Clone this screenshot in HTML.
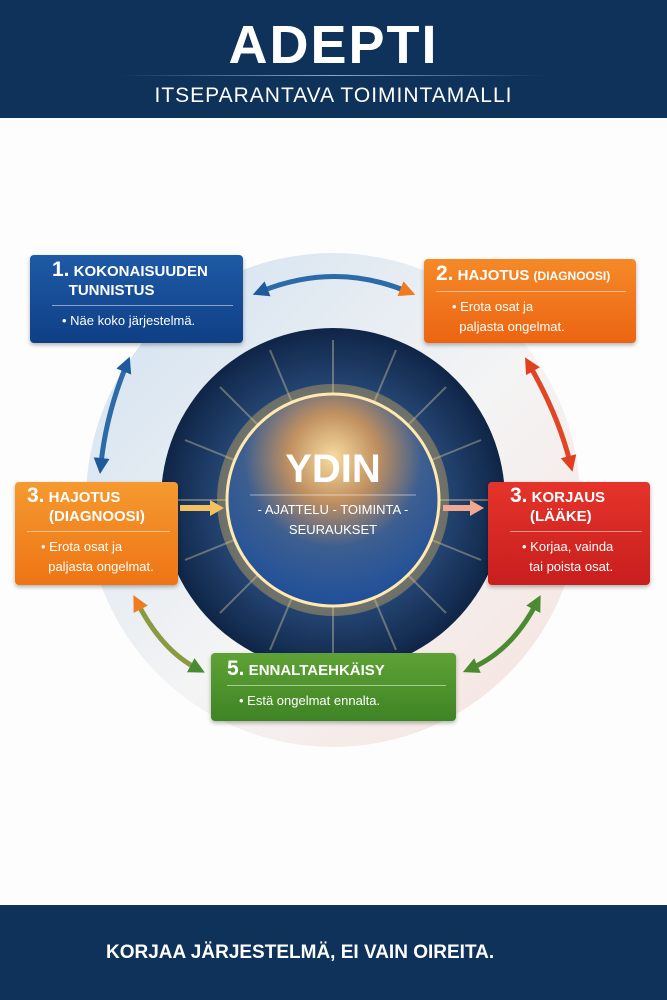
<!DOCTYPE html>
<html><head><meta charset="utf-8"><style>
*{margin:0;padding:0;box-sizing:border-box}
body{width:667px;height:1000px;background:#fdfdfd;font-family:"Liberation Sans",sans-serif;position:relative;overflow:hidden}
.hdr{position:absolute;left:0;top:0;width:667px;height:118px;background:#0e3259;color:#fff;text-align:center}
.hdr h1{position:absolute;top:14px;width:100%;font-size:54px;font-weight:bold;letter-spacing:2px}
.hdr .ln{position:absolute;top:75px;left:120px;width:427px;height:1px;background:linear-gradient(90deg,transparent,#8fa8c8,transparent)}
.hdr .sub{position:absolute;top:84px;width:100%;font-size:21px;letter-spacing:1px}
.ftr{position:absolute;left:0;top:905px;width:667px;height:95px;background:#0e3259;color:#fff;font-size:19px;font-weight:bold;line-height:95px;padding-left:106px;letter-spacing:0}
.box{position:absolute;border-radius:4px;color:#fff;box-shadow:0 2px 4px rgba(0,0,0,.3)}
.box .t{font-weight:bold;font-size:15px;line-height:19px}
.box .t b{font-size:21px}
.box .l{height:1px;background:rgba(255,255,255,.5);margin:5px 0}
.box .d{font-size:13px;line-height:20px}
</style></head><body>
<div class="hdr"><h1>ADEPTI</h1><div class="ln"></div><div class="sub">ITSEPARANTAVA TOIMINTAMALLI</div></div>

<svg style="position:absolute;left:0;top:0" width="667" height="1000">
<defs>
<linearGradient id="ringl" x1="0" y1="0" x2="1" y2="1"><stop offset="0" stop-color="#cfe0f0"/><stop offset="0.55" stop-color="#f4f4f4"/><stop offset="1" stop-color="#f6e2dc"/></linearGradient>
<radialGradient id="dark" cx="50%" cy="50%" r="50%"><stop offset="55%" stop-color="#2b4f80"/><stop offset="100%" stop-color="#0f2547"/></radialGradient>
<radialGradient id="sph" cx="50%" cy="30%" r="70%"><stop offset="0" stop-color="#f8dca0"/><stop offset="0.3" stop-color="#c09060"/><stop offset="0.6" stop-color="#3d5f90"/><stop offset="1" stop-color="#1f4f9a"/></radialGradient>
<marker id="ab" markerUnits="userSpaceOnUse" markerWidth="16" markerHeight="16" refX="6" refY="8" orient="auto-start-reverse"><path d="M0,0 L16,8 L0,16z" fill="#1f5a9a"/></marker>
<marker id="ao" markerUnits="userSpaceOnUse" markerWidth="16" markerHeight="16" refX="6" refY="8" orient="auto-start-reverse"><path d="M0,0 L16,8 L0,16z" fill="#f07a20"/></marker>
<marker id="ar" markerUnits="userSpaceOnUse" markerWidth="16" markerHeight="16" refX="6" refY="8" orient="auto-start-reverse"><path d="M0,0 L16,8 L0,16z" fill="#e04020"/></marker>
<marker id="ag" markerUnits="userSpaceOnUse" markerWidth="16" markerHeight="16" refX="6" refY="8" orient="auto-start-reverse"><path d="M0,0 L16,8 L0,16z" fill="#4a8a30"/></marker>
<marker id="ay" markerUnits="userSpaceOnUse" markerWidth="14" markerHeight="16" refX="4" refY="8" orient="auto"><path d="M0,0 L14,8 L0,16z" fill="#f5c060"/></marker>
<marker id="ap" markerUnits="userSpaceOnUse" markerWidth="14" markerHeight="16" refX="4" refY="8" orient="auto"><path d="M0,0 L14,8 L0,16z" fill="#f0a890"/></marker>
</defs>
<circle cx="333" cy="500" r="247" fill="url(#ringl)"/>
<circle cx="333" cy="500" r="172" fill="url(#dark)"/>
<g stroke="#f6e3b0" stroke-opacity=".35" stroke-width="2">
<line x1="333" y1="340" x2="333" y2="660"/><line x1="173" y1="500" x2="493" y2="500"/>
<line x1="220" y1="387" x2="446" y2="613"/><line x1="446" y1="387" x2="220" y2="613"/>
<line x1="270" y1="350" x2="396" y2="650"/><line x1="396" y1="350" x2="270" y2="650"/>
<line x1="185" y1="440" x2="481" y2="560"/><line x1="185" y1="560" x2="481" y2="440"/>
</g>
<circle cx="333" cy="500" r="116" fill="#f7c35a" opacity=".35"/>
<circle cx="333" cy="500" r="106" fill="url(#sph)" stroke="#ffe9b0" stroke-width="3"/>
<text x="333" y="482" text-anchor="middle" fill="#fff" font-size="40" font-weight="bold" font-family="Liberation Sans">YDIN</text>
<line x1="250" y1="495" x2="416" y2="495" stroke="#fff" stroke-opacity=".5"/>
<text x="333" y="514" text-anchor="middle" fill="#fff" font-size="13" font-family="Liberation Sans">- AJATTELU - TOIMINTA -</text>
<text x="333" y="534" text-anchor="middle" fill="#fff" font-size="13" font-family="Liberation Sans">SEURAUKSET</text>
<path d="M262,291 Q335,262 406,291" stroke="#2c6aa8" stroke-width="5" fill="none" marker-start="url(#ab)" marker-end="url(#ao)"/>
<path d="M126,366 Q106,415 101,464" stroke="#2c6aa8" stroke-width="5" fill="none" marker-start="url(#ab)" marker-end="url(#ab)"/>
<path d="M530,366 Q558,415 570,462" stroke="#e04525" stroke-width="5" fill="none" marker-start="url(#ar)" marker-end="url(#ar)"/>
<path d="M138,604 Q162,650 196,668" stroke="#8a9a40" stroke-width="5" fill="none" marker-start="url(#ao)" marker-end="url(#ag)"/>
<path d="M536,604 Q512,650 472,668" stroke="#4a8a30" stroke-width="5" fill="none" marker-start="url(#ag)" marker-end="url(#ag)"/>
<line x1="180" y1="508" x2="214" y2="508" stroke="#f5c060" stroke-width="6" marker-end="url(#ay)"/>
<line x1="443" y1="508" x2="474" y2="508" stroke="#f0a890" stroke-width="6" marker-end="url(#ap)"/>
</svg>

<div class="box" style="left:30px;top:255px;width:213px;height:88px;background:linear-gradient(#1e5aa6,#0f3f85);padding:5px 10px 0 22px">
<div class="t"><b>1.</b> KOKONAISUUDEN<br>&nbsp;&nbsp;&nbsp;&nbsp;TUNNISTUS</div><div class="l"></div><div class="d" style="padding-left:10px">• Näe koko järjestelmä.</div></div>
<div class="box" style="left:424px;top:259px;width:212px;height:84px;background:linear-gradient(#f58a28,#ec6412);padding:5px 10px 0 12px">
<div class="t"><b>2.</b> HAJOTUS <span style="font-size:12px">(DIAGNOOSI)</span></div><div class="l"></div><div class="d" style="padding-left:16px">• Erota osat ja<br>&nbsp;&nbsp;paljasta ongelmat.</div></div>
<div class="box" style="left:15px;top:482px;width:163px;height:103px;background:linear-gradient(#f59a30,#ee7414);padding:4px 8px 0 12px">
<div class="t"><b>3.</b> HAJOTUS<br><span style="padding-left:22px">(DIAGNOOSI)</span></div><div class="l"></div><div class="d" style="padding-left:14px">• Erota osat ja<br>&nbsp;&nbsp;paljasta ongelmat.</div></div>
<div class="box" style="left:488px;top:482px;width:162px;height:103px;background:linear-gradient(#e5342a,#c81e1e);padding:4px 8px 0 22px">
<div class="t"><b>3.</b> KORJAUS<br><span style="padding-left:20px">(LÄÄKE)</span></div><div class="l"></div><div class="d" style="padding-left:12px">• Korjaa, vainda<br>&nbsp;&nbsp;tai poista osat.</div></div>
<div class="box" style="left:211px;top:653px;width:245px;height:68px;background:linear-gradient(#5ea236,#3f8424);padding:6px 10px 0 16px">
<div class="t"><b>5.</b> ENNALTAEHKÄISY</div><div class="l"></div><div class="d" style="padding-left:12px">• Estä ongelmat ennalta.</div></div>

<div class="ftr">KORJAA JÄRJESTELMÄ, EI VAIN OIREITA.</div>
</body></html>
